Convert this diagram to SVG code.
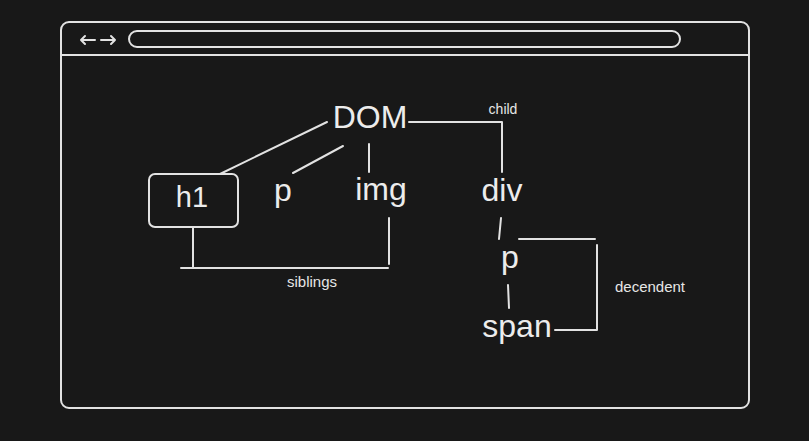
<svg xmlns="http://www.w3.org/2000/svg" width="809" height="441" viewBox="0 0 809 441">
<style>
.ln{fill:none;stroke:#e2e2e2;stroke-width:2;stroke-linecap:round;stroke-linejoin:round}
.big{font-family:"Liberation Sans",Arial,sans-serif;font-size:32px;fill:#ececec;text-anchor:middle}
.sm{font-family:"Liberation Sans",Arial,sans-serif;font-size:15px;fill:#e6e6e6;text-anchor:middle}
</style>
<rect width="809" height="441" fill="#181818"/>
<g id="browser">
<rect class="ln" x="61" y="22" width="688" height="386" rx="8"/>
<line class="ln" x1="61" y1="55" x2="749" y2="55"/>
<rect class="ln" x="129" y="31" width="551" height="16" rx="8" stroke="#cfcfcf"/>
<path class="ln" d="M81 40 H95 M85 36 L81 40 L85 44 M101 40 H115 M111 36 L115 40 L111 44"/>
</g>
<g id="connectors">
<path class="ln" d="M327 122 L220 174"/>
<path class="ln" d="M343 146 L293 173"/>
<path class="ln" d="M369 144 L369 172"/>
<path class="ln" d="M409 122 H502 V172"/>
<path class="ln" d="M501 218 L499 239"/>
<path class="ln" d="M508 285 L509 308"/>
<path class="ln" d="M519 239 H595 M597 245 V330 H555"/>
<path class="ln" d="M193 228 V268 M181 268 H388 M389 218 V264"/>
</g>
<g id="dom"><text class="big" x="370" y="128">DOM</text></g>
<g id="h1">
<rect class="ln" x="149" y="174" width="89" height="53" rx="6"/>
<text class="big" x="192" y="207" style="font-size:29px">h1</text>
</g>
<g id="p1"><text class="big" x="283" y="201">p</text></g>
<g id="img"><text class="big" x="381" y="200">img</text></g>
<g id="div"><text class="big" x="502" y="201">div</text></g>
<g id="p2"><text class="big" x="510" y="268">p</text></g>
<g id="span"><text class="big" x="517" y="337">span</text></g>
<g id="labels">
<text class="sm" x="503" y="114" style="font-size:14px">child</text>
<text class="sm" x="312" y="287">siblings</text>
<text class="sm" x="650" y="292">decendent</text>
</g>
</svg>
